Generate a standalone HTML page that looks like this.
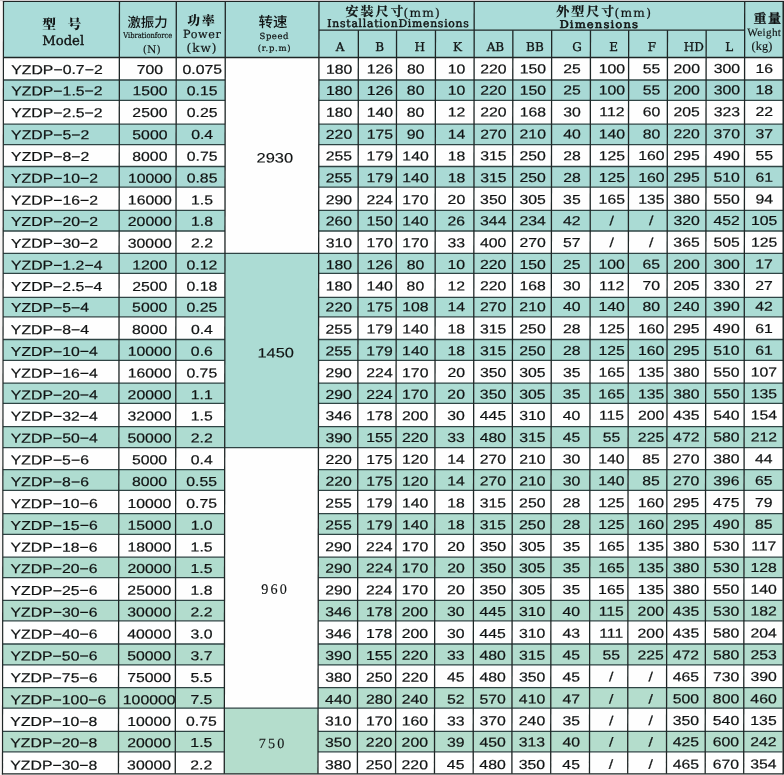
<!DOCTYPE html>
<html><head><meta charset="utf-8"><title>YZDP</title>
<style>html,body{margin:0;padding:0;background:#f8f6f5;}svg{display:block;}</style>
</head><body>
<svg width="784" height="775" viewBox="0 0 784 775">
<rect x="0" y="0" width="784" height="775" fill="#f8f6f5"/>
<rect x="0" y="0" width="784" height="1.1" fill="#d4cdd0"/>
<g transform="skewX(-0.075)">
<rect x="3.5" y="1.6" width="780.0" height="55.9" fill="#aadcd9"/>
<rect x="3.5" y="57.30" width="221.80" height="22.70" fill="#fefefe"/>
<rect x="319" y="57.30" width="464.50" height="22.70" fill="#fefefe"/>
<rect x="3.5" y="80.00" width="221.80" height="20.30" fill="#a8d9d5"/>
<rect x="319" y="80.00" width="464.50" height="20.30" fill="#a8d9d5"/>
<rect x="3.5" y="100.30" width="221.80" height="23.90" fill="#fefefe"/>
<rect x="319" y="100.30" width="464.50" height="23.90" fill="#fefefe"/>
<rect x="3.5" y="124.20" width="221.80" height="20.50" fill="#a9dad5"/>
<rect x="319" y="124.20" width="464.50" height="20.50" fill="#a9dad5"/>
<rect x="3.5" y="144.70" width="221.80" height="21.80" fill="#fefefe"/>
<rect x="319" y="144.70" width="464.50" height="21.80" fill="#fefefe"/>
<rect x="3.5" y="166.50" width="221.80" height="20.70" fill="#aadad5"/>
<rect x="319" y="166.50" width="464.50" height="20.70" fill="#aadad5"/>
<rect x="3.5" y="187.20" width="221.80" height="23.20" fill="#fefefe"/>
<rect x="319" y="187.20" width="464.50" height="23.20" fill="#fefefe"/>
<rect x="3.5" y="210.40" width="221.80" height="20.60" fill="#aadbd4"/>
<rect x="319" y="210.40" width="464.50" height="20.60" fill="#aadbd4"/>
<rect x="3.5" y="231.00" width="221.80" height="22.30" fill="#fefefe"/>
<rect x="319" y="231.00" width="464.50" height="22.30" fill="#fefefe"/>
<rect x="3.5" y="253.30" width="221.80" height="20.10" fill="#abdbd4"/>
<rect x="319" y="253.30" width="464.50" height="20.10" fill="#abdbd4"/>
<rect x="3.5" y="273.40" width="221.80" height="24.00" fill="#fefefe"/>
<rect x="319" y="273.40" width="464.50" height="24.00" fill="#fefefe"/>
<rect x="3.5" y="297.40" width="221.80" height="19.40" fill="#abdcd4"/>
<rect x="319" y="297.40" width="464.50" height="19.40" fill="#abdcd4"/>
<rect x="3.5" y="316.80" width="221.80" height="22.70" fill="#fefefe"/>
<rect x="319" y="316.80" width="464.50" height="22.70" fill="#fefefe"/>
<rect x="3.5" y="339.50" width="221.80" height="20.80" fill="#acdcd4"/>
<rect x="319" y="339.50" width="464.50" height="20.80" fill="#acdcd4"/>
<rect x="3.5" y="360.30" width="221.80" height="22.80" fill="#fefefe"/>
<rect x="319" y="360.30" width="464.50" height="22.80" fill="#fefefe"/>
<rect x="3.5" y="383.10" width="221.80" height="20.30" fill="#addcd3"/>
<rect x="319" y="383.10" width="464.50" height="20.30" fill="#addcd3"/>
<rect x="3.5" y="403.40" width="221.80" height="23.20" fill="#fefefe"/>
<rect x="319" y="403.40" width="464.50" height="23.20" fill="#fefefe"/>
<rect x="3.5" y="426.60" width="221.80" height="21.00" fill="#aedcd1"/>
<rect x="319" y="426.60" width="464.50" height="21.00" fill="#aedcd1"/>
<rect x="3.5" y="447.60" width="221.80" height="22.00" fill="#fefefe"/>
<rect x="319" y="447.60" width="464.50" height="22.00" fill="#fefefe"/>
<rect x="3.5" y="469.60" width="221.80" height="20.70" fill="#afdcd0"/>
<rect x="319" y="469.60" width="464.50" height="20.70" fill="#afdcd0"/>
<rect x="3.5" y="490.30" width="221.80" height="23.30" fill="#fefefe"/>
<rect x="319" y="490.30" width="464.50" height="23.30" fill="#fefefe"/>
<rect x="3.5" y="513.60" width="221.80" height="20.80" fill="#b0dccf"/>
<rect x="319" y="513.60" width="464.50" height="20.80" fill="#b0dccf"/>
<rect x="3.5" y="534.40" width="221.80" height="22.80" fill="#fefefe"/>
<rect x="319" y="534.40" width="464.50" height="22.80" fill="#fefefe"/>
<rect x="3.5" y="557.20" width="221.80" height="20.40" fill="#b0dcce"/>
<rect x="319" y="557.20" width="464.50" height="20.40" fill="#b0dcce"/>
<rect x="3.5" y="577.60" width="221.80" height="22.70" fill="#fefefe"/>
<rect x="319" y="577.60" width="464.50" height="22.70" fill="#fefefe"/>
<rect x="3.5" y="600.30" width="221.80" height="20.50" fill="#b2dccd"/>
<rect x="319" y="600.30" width="464.50" height="20.50" fill="#b2dccd"/>
<rect x="3.5" y="620.80" width="221.80" height="23.20" fill="#fefefe"/>
<rect x="319" y="620.80" width="464.50" height="23.20" fill="#fefefe"/>
<rect x="3.5" y="644.00" width="221.80" height="20.90" fill="#b2dccd"/>
<rect x="319" y="644.00" width="464.50" height="20.90" fill="#b2dccd"/>
<rect x="3.5" y="664.90" width="221.80" height="22.70" fill="#fefefe"/>
<rect x="319" y="664.90" width="464.50" height="22.70" fill="#fefefe"/>
<rect x="3.5" y="687.60" width="221.80" height="20.60" fill="#b4ddcd"/>
<rect x="319" y="687.60" width="464.50" height="20.60" fill="#b4ddcd"/>
<rect x="3.5" y="708.20" width="221.80" height="23.10" fill="#fefefe"/>
<rect x="319" y="708.20" width="464.50" height="23.10" fill="#fefefe"/>
<rect x="3.5" y="731.30" width="221.80" height="20.50" fill="#b4ddcc"/>
<rect x="319" y="731.30" width="464.50" height="20.50" fill="#b4ddcc"/>
<rect x="3.5" y="751.80" width="221.80" height="22.00" fill="#fefefe"/>
<rect x="319" y="751.80" width="464.50" height="22.00" fill="#fefefe"/>
<rect x="225.3" y="57.30" width="93.70" height="196.00" fill="#fefefe"/>
<rect x="225.3" y="253.30" width="93.70" height="194.30" fill="#acdcd4"/>
<rect x="225.3" y="447.60" width="93.70" height="260.60" fill="#fefefe"/>
<rect x="225.3" y="708.20" width="93.70" height="65.60" fill="#b4ddcc"/>
<line x1="3.5" y1="80.00" x2="225.3" y2="80.00" stroke="#2f4444" stroke-width="1.3"/>
<line x1="319" y1="80.00" x2="783.5" y2="80.00" stroke="#2f4444" stroke-width="1.3"/>
<line x1="3.5" y1="100.30" x2="225.3" y2="100.30" stroke="#2f4444" stroke-width="1.3"/>
<line x1="319" y1="100.30" x2="783.5" y2="100.30" stroke="#2f4444" stroke-width="1.3"/>
<line x1="3.5" y1="124.20" x2="225.3" y2="124.20" stroke="#2f4444" stroke-width="1.3"/>
<line x1="319" y1="124.20" x2="783.5" y2="124.20" stroke="#2f4444" stroke-width="1.3"/>
<line x1="3.5" y1="144.70" x2="225.3" y2="144.70" stroke="#2f4444" stroke-width="1.3"/>
<line x1="319" y1="144.70" x2="783.5" y2="144.70" stroke="#2f4444" stroke-width="1.3"/>
<line x1="3.5" y1="166.50" x2="225.3" y2="166.50" stroke="#2f4444" stroke-width="1.3"/>
<line x1="319" y1="166.50" x2="783.5" y2="166.50" stroke="#2f4444" stroke-width="1.3"/>
<line x1="3.5" y1="187.20" x2="225.3" y2="187.20" stroke="#2f4444" stroke-width="1.3"/>
<line x1="319" y1="187.20" x2="783.5" y2="187.20" stroke="#2f4444" stroke-width="1.3"/>
<line x1="3.5" y1="210.40" x2="225.3" y2="210.40" stroke="#2f4444" stroke-width="1.3"/>
<line x1="319" y1="210.40" x2="783.5" y2="210.40" stroke="#2f4444" stroke-width="1.3"/>
<line x1="3.5" y1="231.00" x2="225.3" y2="231.00" stroke="#2f4444" stroke-width="1.3"/>
<line x1="319" y1="231.00" x2="783.5" y2="231.00" stroke="#2f4444" stroke-width="1.3"/>
<line x1="3.5" y1="253.30" x2="225.3" y2="253.30" stroke="#2f4444" stroke-width="1.3"/>
<line x1="319" y1="253.30" x2="783.5" y2="253.30" stroke="#2f4444" stroke-width="1.3"/>
<line x1="3.5" y1="273.40" x2="225.3" y2="273.40" stroke="#2f4444" stroke-width="1.3"/>
<line x1="319" y1="273.40" x2="783.5" y2="273.40" stroke="#2f4444" stroke-width="1.3"/>
<line x1="3.5" y1="297.40" x2="225.3" y2="297.40" stroke="#2f4444" stroke-width="1.3"/>
<line x1="319" y1="297.40" x2="783.5" y2="297.40" stroke="#2f4444" stroke-width="1.3"/>
<line x1="3.5" y1="316.80" x2="225.3" y2="316.80" stroke="#2f4444" stroke-width="1.3"/>
<line x1="319" y1="316.80" x2="783.5" y2="316.80" stroke="#2f4444" stroke-width="1.3"/>
<line x1="3.5" y1="339.50" x2="225.3" y2="339.50" stroke="#2f4444" stroke-width="1.3"/>
<line x1="319" y1="339.50" x2="783.5" y2="339.50" stroke="#2f4444" stroke-width="1.3"/>
<line x1="3.5" y1="360.30" x2="225.3" y2="360.30" stroke="#2f4444" stroke-width="1.3"/>
<line x1="319" y1="360.30" x2="783.5" y2="360.30" stroke="#2f4444" stroke-width="1.3"/>
<line x1="3.5" y1="383.10" x2="225.3" y2="383.10" stroke="#2f4444" stroke-width="1.3"/>
<line x1="319" y1="383.10" x2="783.5" y2="383.10" stroke="#2f4444" stroke-width="1.3"/>
<line x1="3.5" y1="403.40" x2="225.3" y2="403.40" stroke="#2f4444" stroke-width="1.3"/>
<line x1="319" y1="403.40" x2="783.5" y2="403.40" stroke="#2f4444" stroke-width="1.3"/>
<line x1="3.5" y1="426.60" x2="225.3" y2="426.60" stroke="#2f4444" stroke-width="1.3"/>
<line x1="319" y1="426.60" x2="783.5" y2="426.60" stroke="#2f4444" stroke-width="1.3"/>
<line x1="3.5" y1="447.60" x2="225.3" y2="447.60" stroke="#2f4444" stroke-width="1.3"/>
<line x1="319" y1="447.60" x2="783.5" y2="447.60" stroke="#2f4444" stroke-width="1.3"/>
<line x1="3.5" y1="469.60" x2="225.3" y2="469.60" stroke="#2f4444" stroke-width="1.3"/>
<line x1="319" y1="469.60" x2="783.5" y2="469.60" stroke="#2f4444" stroke-width="1.3"/>
<line x1="3.5" y1="490.30" x2="225.3" y2="490.30" stroke="#2f4444" stroke-width="1.3"/>
<line x1="319" y1="490.30" x2="783.5" y2="490.30" stroke="#2f4444" stroke-width="1.3"/>
<line x1="3.5" y1="513.60" x2="225.3" y2="513.60" stroke="#2f4444" stroke-width="1.3"/>
<line x1="319" y1="513.60" x2="783.5" y2="513.60" stroke="#2f4444" stroke-width="1.3"/>
<line x1="3.5" y1="534.40" x2="225.3" y2="534.40" stroke="#2f4444" stroke-width="1.3"/>
<line x1="319" y1="534.40" x2="783.5" y2="534.40" stroke="#2f4444" stroke-width="1.3"/>
<line x1="3.5" y1="557.20" x2="225.3" y2="557.20" stroke="#2f4444" stroke-width="1.3"/>
<line x1="319" y1="557.20" x2="783.5" y2="557.20" stroke="#2f4444" stroke-width="1.3"/>
<line x1="3.5" y1="577.60" x2="225.3" y2="577.60" stroke="#2f4444" stroke-width="1.3"/>
<line x1="319" y1="577.60" x2="783.5" y2="577.60" stroke="#2f4444" stroke-width="1.3"/>
<line x1="3.5" y1="600.30" x2="225.3" y2="600.30" stroke="#2f4444" stroke-width="1.3"/>
<line x1="319" y1="600.30" x2="783.5" y2="600.30" stroke="#2f4444" stroke-width="1.3"/>
<line x1="3.5" y1="620.80" x2="225.3" y2="620.80" stroke="#2f4444" stroke-width="1.3"/>
<line x1="319" y1="620.80" x2="783.5" y2="620.80" stroke="#2f4444" stroke-width="1.3"/>
<line x1="3.5" y1="644.00" x2="225.3" y2="644.00" stroke="#2f4444" stroke-width="1.3"/>
<line x1="319" y1="644.00" x2="783.5" y2="644.00" stroke="#2f4444" stroke-width="1.3"/>
<line x1="3.5" y1="664.90" x2="225.3" y2="664.90" stroke="#2f4444" stroke-width="1.3"/>
<line x1="319" y1="664.90" x2="783.5" y2="664.90" stroke="#2f4444" stroke-width="1.3"/>
<line x1="3.5" y1="687.60" x2="225.3" y2="687.60" stroke="#2f4444" stroke-width="1.3"/>
<line x1="319" y1="687.60" x2="783.5" y2="687.60" stroke="#2f4444" stroke-width="1.3"/>
<line x1="3.5" y1="708.20" x2="225.3" y2="708.20" stroke="#2f4444" stroke-width="1.3"/>
<line x1="319" y1="708.20" x2="783.5" y2="708.20" stroke="#2f4444" stroke-width="1.3"/>
<line x1="3.5" y1="731.30" x2="225.3" y2="731.30" stroke="#2f4444" stroke-width="1.3"/>
<line x1="319" y1="731.30" x2="783.5" y2="731.30" stroke="#2f4444" stroke-width="1.3"/>
<line x1="3.5" y1="751.80" x2="225.3" y2="751.80" stroke="#2f4444" stroke-width="1.3"/>
<line x1="319" y1="751.80" x2="783.5" y2="751.80" stroke="#2f4444" stroke-width="1.3"/>
<line x1="225.3" y1="253.30" x2="319" y2="253.30" stroke="#2f4444" stroke-width="1.3"/>
<line x1="225.3" y1="447.60" x2="319" y2="447.60" stroke="#2f4444" stroke-width="1.3"/>
<line x1="225.3" y1="708.20" x2="319" y2="708.20" stroke="#2f4444" stroke-width="1.3"/>
<line x1="319" y1="30.20" x2="744.7" y2="30.20" stroke="#1f2626" stroke-width="1.2"/>
<line x1="3.5" y1="57.50" x2="783.5" y2="57.50" stroke="#1f2626" stroke-width="1.5"/>
<line x1="119.45" y1="1.60" x2="119.45" y2="773.80" stroke="#1f2626" stroke-width="1.3"/>
<line x1="176.3" y1="1.60" x2="176.3" y2="773.80" stroke="#1f2626" stroke-width="1.3"/>
<line x1="225.3" y1="1.60" x2="225.3" y2="773.80" stroke="#1f2626" stroke-width="1.3"/>
<line x1="319" y1="1.60" x2="319" y2="773.80" stroke="#1f2626" stroke-width="1.3"/>
<line x1="358.4" y1="30.20" x2="358.4" y2="773.80" stroke="#1f2626" stroke-width="1.3"/>
<line x1="396.6" y1="30.20" x2="396.6" y2="773.80" stroke="#1f2626" stroke-width="1.3"/>
<line x1="435.5" y1="30.20" x2="435.5" y2="773.80" stroke="#1f2626" stroke-width="1.3"/>
<line x1="474.2" y1="1.60" x2="474.2" y2="773.80" stroke="#1f2626" stroke-width="1.3"/>
<line x1="512.9" y1="30.20" x2="512.9" y2="773.80" stroke="#1f2626" stroke-width="1.3"/>
<line x1="551.7" y1="30.20" x2="551.7" y2="773.80" stroke="#1f2626" stroke-width="1.3"/>
<line x1="590.5" y1="30.20" x2="590.5" y2="773.80" stroke="#1f2626" stroke-width="1.3"/>
<line x1="628.7" y1="30.20" x2="628.7" y2="773.80" stroke="#1f2626" stroke-width="1.3"/>
<line x1="667.5" y1="30.20" x2="667.5" y2="773.80" stroke="#1f2626" stroke-width="1.3"/>
<line x1="706.2" y1="30.20" x2="706.2" y2="773.80" stroke="#1f2626" stroke-width="1.3"/>
<line x1="744.7" y1="1.60" x2="744.7" y2="773.80" stroke="#1f2626" stroke-width="1.3"/>
<line x1="2.9" y1="1.60" x2="784.3" y2="1.60" stroke="#1f2626" stroke-width="1.0"/>
<line x1="2.9" y1="773.80" x2="784.3" y2="773.80" stroke="#1f2626" stroke-width="1.3"/>
<line x1="3.5" y1="1.10" x2="3.5" y2="774.40" stroke="#1f2626" stroke-width="1.2"/>
<style>
text{fill:#101313;text-anchor:middle}
.s{text-anchor:start}
.d{font-family:'Liberation Sans',sans-serif;font-size:13.0px;stroke:#101313;stroke-width:0.2px}
.m{letter-spacing:0.02px}
.h{font-family:'DejaVu Serif',serif}
</style>
<g transform="skewY(-0.09)">
<text class="d m s" transform="translate(11.30,74.20) scale(1.215,1)">YZDP−0.7−2</text>
<text class="d" transform="translate(150.07,74.20) scale(1.215,1)">700</text>
<text class="d" transform="translate(202.30,74.20) scale(1.215,1)">0.075</text>
<text class="d" transform="translate(339.20,74.20) scale(1.215,1)">180</text>
<text class="d" transform="translate(380.00,74.20) scale(1.215,1)">126</text>
<text class="d" transform="translate(415.75,74.20) scale(1.215,1)">80</text>
<text class="d" transform="translate(456.65,74.20) scale(1.215,1)">10</text>
<text class="d" transform="translate(493.55,74.20) scale(1.215,1)">220</text>
<text class="d" transform="translate(532.95,74.20) scale(1.215,1)">150</text>
<text class="d" transform="translate(572.15,74.20) scale(1.215,1)">25</text>
<text class="d" transform="translate(612.05,74.20) scale(1.215,1)">100</text>
<text class="d" transform="translate(651.60,74.20) scale(1.215,1)">55</text>
<text class="d" transform="translate(686.85,74.20) scale(1.215,1)">200</text>
<text class="d" transform="translate(726.95,74.20) scale(1.215,1)">300</text>
<text class="d" transform="translate(764.45,74.20) scale(1.215,1)">16</text>
<text class="d m s" transform="translate(11.30,95.50) scale(1.215,1)">YZDP−1.5−2</text>
<text class="d" transform="translate(150.07,95.50) scale(1.215,1)">1500</text>
<text class="d" transform="translate(202.30,95.50) scale(1.215,1)">0.15</text>
<text class="d" transform="translate(339.20,95.50) scale(1.215,1)">180</text>
<text class="d" transform="translate(380.00,95.50) scale(1.215,1)">126</text>
<text class="d" transform="translate(415.75,95.50) scale(1.215,1)">80</text>
<text class="d" transform="translate(456.65,95.50) scale(1.215,1)">10</text>
<text class="d" transform="translate(493.55,95.50) scale(1.215,1)">220</text>
<text class="d" transform="translate(532.95,95.50) scale(1.215,1)">150</text>
<text class="d" transform="translate(572.15,95.50) scale(1.215,1)">25</text>
<text class="d" transform="translate(612.05,95.50) scale(1.215,1)">100</text>
<text class="d" transform="translate(651.60,95.50) scale(1.215,1)">55</text>
<text class="d" transform="translate(686.85,95.50) scale(1.215,1)">200</text>
<text class="d" transform="translate(726.95,95.50) scale(1.215,1)">300</text>
<text class="d" transform="translate(764.45,95.50) scale(1.215,1)">18</text>
<text class="d m s" transform="translate(11.30,117.30) scale(1.215,1)">YZDP−2.5−2</text>
<text class="d" transform="translate(150.07,117.30) scale(1.215,1)">2500</text>
<text class="d" transform="translate(202.30,117.30) scale(1.215,1)">0.25</text>
<text class="d" transform="translate(339.20,117.30) scale(1.215,1)">180</text>
<text class="d" transform="translate(380.00,117.30) scale(1.215,1)">140</text>
<text class="d" transform="translate(415.75,117.30) scale(1.215,1)">80</text>
<text class="d" transform="translate(456.65,117.30) scale(1.215,1)">12</text>
<text class="d" transform="translate(493.55,117.30) scale(1.215,1)">220</text>
<text class="d" transform="translate(532.95,117.30) scale(1.215,1)">168</text>
<text class="d" transform="translate(572.15,117.30) scale(1.215,1)">30</text>
<text class="d" transform="translate(612.05,117.30) scale(1.215,1)">112</text>
<text class="d" transform="translate(651.60,117.30) scale(1.215,1)">60</text>
<text class="d" transform="translate(686.85,117.30) scale(1.215,1)">205</text>
<text class="d" transform="translate(726.95,117.30) scale(1.215,1)">323</text>
<text class="d" transform="translate(764.45,117.30) scale(1.215,1)">22</text>
<text class="d m s" transform="translate(11.30,139.40) scale(1.215,1)">YZDP−5−2</text>
<text class="d" transform="translate(150.07,139.40) scale(1.215,1)">5000</text>
<text class="d" transform="translate(202.30,139.40) scale(1.215,1)">0.4</text>
<text class="d" transform="translate(339.20,139.40) scale(1.215,1)">220</text>
<text class="d" transform="translate(380.00,139.40) scale(1.215,1)">175</text>
<text class="d" transform="translate(415.75,139.40) scale(1.215,1)">90</text>
<text class="d" transform="translate(456.65,139.40) scale(1.215,1)">14</text>
<text class="d" transform="translate(493.55,139.40) scale(1.215,1)">270</text>
<text class="d" transform="translate(532.95,139.40) scale(1.215,1)">210</text>
<text class="d" transform="translate(572.15,139.40) scale(1.215,1)">40</text>
<text class="d" transform="translate(612.05,139.40) scale(1.215,1)">140</text>
<text class="d" transform="translate(651.60,139.40) scale(1.215,1)">80</text>
<text class="d" transform="translate(686.85,139.40) scale(1.215,1)">220</text>
<text class="d" transform="translate(726.95,139.40) scale(1.215,1)">370</text>
<text class="d" transform="translate(764.45,139.40) scale(1.215,1)">37</text>
<text class="d m s" transform="translate(11.30,161.10) scale(1.215,1)">YZDP−8−2</text>
<text class="d" transform="translate(150.07,161.10) scale(1.215,1)">8000</text>
<text class="d" transform="translate(202.30,161.10) scale(1.215,1)">0.75</text>
<text class="d" transform="translate(339.20,161.10) scale(1.215,1)">255</text>
<text class="d" transform="translate(380.00,161.10) scale(1.215,1)">179</text>
<text class="d" transform="translate(415.75,161.10) scale(1.215,1)">140</text>
<text class="d" transform="translate(456.65,161.10) scale(1.215,1)">18</text>
<text class="d" transform="translate(493.55,161.10) scale(1.215,1)">315</text>
<text class="d" transform="translate(532.95,161.10) scale(1.215,1)">250</text>
<text class="d" transform="translate(572.15,161.10) scale(1.215,1)">28</text>
<text class="d" transform="translate(612.05,161.10) scale(1.215,1)">125</text>
<text class="d" transform="translate(651.60,161.10) scale(1.215,1)">160</text>
<text class="d" transform="translate(686.85,161.10) scale(1.215,1)">295</text>
<text class="d" transform="translate(726.95,161.10) scale(1.215,1)">490</text>
<text class="d" transform="translate(764.45,161.10) scale(1.215,1)">55</text>
<text class="d m s" transform="translate(11.30,182.90) scale(1.215,1)">YZDP−10−2</text>
<text class="d" transform="translate(150.07,182.90) scale(1.215,1)">10000</text>
<text class="d" transform="translate(202.30,182.90) scale(1.215,1)">0.85</text>
<text class="d" transform="translate(339.20,182.90) scale(1.215,1)">255</text>
<text class="d" transform="translate(380.00,182.90) scale(1.215,1)">179</text>
<text class="d" transform="translate(415.75,182.90) scale(1.215,1)">140</text>
<text class="d" transform="translate(456.65,182.90) scale(1.215,1)">18</text>
<text class="d" transform="translate(493.55,182.90) scale(1.215,1)">315</text>
<text class="d" transform="translate(532.95,182.90) scale(1.215,1)">250</text>
<text class="d" transform="translate(572.15,182.90) scale(1.215,1)">28</text>
<text class="d" transform="translate(612.05,182.90) scale(1.215,1)">125</text>
<text class="d" transform="translate(651.60,182.90) scale(1.215,1)">160</text>
<text class="d" transform="translate(686.85,182.90) scale(1.215,1)">295</text>
<text class="d" transform="translate(726.95,182.90) scale(1.215,1)">510</text>
<text class="d" transform="translate(764.45,182.90) scale(1.215,1)">61</text>
<text class="d m s" transform="translate(11.30,204.80) scale(1.215,1)">YZDP−16−2</text>
<text class="d" transform="translate(150.07,204.80) scale(1.215,1)">16000</text>
<text class="d" transform="translate(202.30,204.80) scale(1.215,1)">1.5</text>
<text class="d" transform="translate(339.20,204.80) scale(1.215,1)">290</text>
<text class="d" transform="translate(380.00,204.80) scale(1.215,1)">224</text>
<text class="d" transform="translate(415.75,204.80) scale(1.215,1)">170</text>
<text class="d" transform="translate(456.65,204.80) scale(1.215,1)">20</text>
<text class="d" transform="translate(493.55,204.80) scale(1.215,1)">350</text>
<text class="d" transform="translate(532.95,204.80) scale(1.215,1)">305</text>
<text class="d" transform="translate(572.15,204.80) scale(1.215,1)">35</text>
<text class="d" transform="translate(612.05,204.80) scale(1.215,1)">165</text>
<text class="d" transform="translate(651.60,204.80) scale(1.215,1)">135</text>
<text class="d" transform="translate(686.85,204.80) scale(1.215,1)">380</text>
<text class="d" transform="translate(726.95,204.80) scale(1.215,1)">550</text>
<text class="d" transform="translate(764.45,204.80) scale(1.215,1)">94</text>
<text class="d m s" transform="translate(11.30,226.10) scale(1.215,1)">YZDP−20−2</text>
<text class="d" transform="translate(150.07,226.10) scale(1.215,1)">20000</text>
<text class="d" transform="translate(202.30,226.10) scale(1.215,1)">1.8</text>
<text class="d" transform="translate(339.20,226.10) scale(1.215,1)">260</text>
<text class="d" transform="translate(380.00,226.10) scale(1.215,1)">150</text>
<text class="d" transform="translate(415.75,226.10) scale(1.215,1)">140</text>
<text class="d" transform="translate(456.65,226.10) scale(1.215,1)">26</text>
<text class="d" transform="translate(493.55,226.10) scale(1.215,1)">344</text>
<text class="d" transform="translate(532.95,226.10) scale(1.215,1)">234</text>
<text class="d" transform="translate(572.15,226.10) scale(1.215,1)">42</text>
<text class="d" transform="translate(612.05,226.10) scale(1.215,1)">/</text>
<text class="d" transform="translate(651.60,226.10) scale(1.215,1)">/</text>
<text class="d" transform="translate(686.85,226.10) scale(1.215,1)">320</text>
<text class="d" transform="translate(726.95,226.10) scale(1.215,1)">452</text>
<text class="d" transform="translate(764.45,226.10) scale(1.215,1)">105</text>
<text class="d m s" transform="translate(11.30,247.90) scale(1.215,1)">YZDP−30−2</text>
<text class="d" transform="translate(150.07,247.90) scale(1.215,1)">30000</text>
<text class="d" transform="translate(202.30,247.90) scale(1.215,1)">2.2</text>
<text class="d" transform="translate(339.20,247.90) scale(1.215,1)">310</text>
<text class="d" transform="translate(380.00,247.90) scale(1.215,1)">170</text>
<text class="d" transform="translate(415.75,247.90) scale(1.215,1)">170</text>
<text class="d" transform="translate(456.65,247.90) scale(1.215,1)">33</text>
<text class="d" transform="translate(493.55,247.90) scale(1.215,1)">400</text>
<text class="d" transform="translate(532.95,247.90) scale(1.215,1)">270</text>
<text class="d" transform="translate(572.15,247.90) scale(1.215,1)">57</text>
<text class="d" transform="translate(612.05,247.90) scale(1.215,1)">/</text>
<text class="d" transform="translate(651.60,247.90) scale(1.215,1)">/</text>
<text class="d" transform="translate(686.85,247.90) scale(1.215,1)">365</text>
<text class="d" transform="translate(726.95,247.90) scale(1.215,1)">505</text>
<text class="d" transform="translate(764.45,247.90) scale(1.215,1)">125</text>
<text class="d m s" transform="translate(11.30,269.80) scale(1.215,1)">YZDP−1.2−4</text>
<text class="d" transform="translate(150.07,269.80) scale(1.215,1)">1200</text>
<text class="d" transform="translate(202.30,269.80) scale(1.215,1)">0.12</text>
<text class="d" transform="translate(339.20,269.80) scale(1.215,1)">180</text>
<text class="d" transform="translate(380.00,269.80) scale(1.215,1)">126</text>
<text class="d" transform="translate(415.75,269.80) scale(1.215,1)">80</text>
<text class="d" transform="translate(456.65,269.80) scale(1.215,1)">10</text>
<text class="d" transform="translate(493.55,269.80) scale(1.215,1)">220</text>
<text class="d" transform="translate(532.95,269.80) scale(1.215,1)">150</text>
<text class="d" transform="translate(572.15,269.80) scale(1.215,1)">25</text>
<text class="d" transform="translate(612.05,269.80) scale(1.215,1)">100</text>
<text class="d" transform="translate(651.60,269.80) scale(1.215,1)">65</text>
<text class="d" transform="translate(686.85,269.80) scale(1.215,1)">200</text>
<text class="d" transform="translate(726.95,269.80) scale(1.215,1)">300</text>
<text class="d" transform="translate(764.45,269.80) scale(1.215,1)">17</text>
<text class="d m s" transform="translate(11.30,291.10) scale(1.215,1)">YZDP−2.5−4</text>
<text class="d" transform="translate(150.07,291.10) scale(1.215,1)">2500</text>
<text class="d" transform="translate(202.30,291.10) scale(1.215,1)">0.18</text>
<text class="d" transform="translate(339.20,291.10) scale(1.215,1)">180</text>
<text class="d" transform="translate(380.00,291.10) scale(1.215,1)">140</text>
<text class="d" transform="translate(415.75,291.10) scale(1.215,1)">80</text>
<text class="d" transform="translate(456.65,291.10) scale(1.215,1)">12</text>
<text class="d" transform="translate(493.55,291.10) scale(1.215,1)">220</text>
<text class="d" transform="translate(532.95,291.10) scale(1.215,1)">168</text>
<text class="d" transform="translate(572.15,291.10) scale(1.215,1)">30</text>
<text class="d" transform="translate(612.05,291.10) scale(1.215,1)">112</text>
<text class="d" transform="translate(651.60,291.10) scale(1.215,1)">70</text>
<text class="d" transform="translate(686.85,291.10) scale(1.215,1)">205</text>
<text class="d" transform="translate(726.95,291.10) scale(1.215,1)">330</text>
<text class="d" transform="translate(764.45,291.10) scale(1.215,1)">27</text>
<text class="d m s" transform="translate(11.30,312.00) scale(1.215,1)">YZDP−5−4</text>
<text class="d" transform="translate(150.07,312.00) scale(1.215,1)">5000</text>
<text class="d" transform="translate(202.30,312.00) scale(1.215,1)">0.25</text>
<text class="d" transform="translate(339.20,312.00) scale(1.215,1)">220</text>
<text class="d" transform="translate(380.00,312.00) scale(1.215,1)">175</text>
<text class="d" transform="translate(415.75,312.00) scale(1.215,1)">108</text>
<text class="d" transform="translate(456.65,312.00) scale(1.215,1)">14</text>
<text class="d" transform="translate(493.55,312.00) scale(1.215,1)">270</text>
<text class="d" transform="translate(532.95,312.00) scale(1.215,1)">210</text>
<text class="d" transform="translate(572.15,312.00) scale(1.215,1)">40</text>
<text class="d" transform="translate(612.05,312.00) scale(1.215,1)">140</text>
<text class="d" transform="translate(651.60,312.00) scale(1.215,1)">80</text>
<text class="d" transform="translate(686.85,312.00) scale(1.215,1)">240</text>
<text class="d" transform="translate(726.95,312.00) scale(1.215,1)">390</text>
<text class="d" transform="translate(764.45,312.00) scale(1.215,1)">42</text>
<text class="d m s" transform="translate(11.30,334.20) scale(1.215,1)">YZDP−8−4</text>
<text class="d" transform="translate(150.07,334.20) scale(1.215,1)">8000</text>
<text class="d" transform="translate(202.30,334.20) scale(1.215,1)">0.4</text>
<text class="d" transform="translate(339.20,334.20) scale(1.215,1)">255</text>
<text class="d" transform="translate(380.00,334.20) scale(1.215,1)">179</text>
<text class="d" transform="translate(415.75,334.20) scale(1.215,1)">140</text>
<text class="d" transform="translate(456.65,334.20) scale(1.215,1)">18</text>
<text class="d" transform="translate(493.55,334.20) scale(1.215,1)">315</text>
<text class="d" transform="translate(532.95,334.20) scale(1.215,1)">250</text>
<text class="d" transform="translate(572.15,334.20) scale(1.215,1)">28</text>
<text class="d" transform="translate(612.05,334.20) scale(1.215,1)">125</text>
<text class="d" transform="translate(651.60,334.20) scale(1.215,1)">160</text>
<text class="d" transform="translate(686.85,334.20) scale(1.215,1)">295</text>
<text class="d" transform="translate(726.95,334.20) scale(1.215,1)">490</text>
<text class="d" transform="translate(764.45,334.20) scale(1.215,1)">61</text>
<text class="d m s" transform="translate(11.30,356.00) scale(1.215,1)">YZDP−10−4</text>
<text class="d" transform="translate(150.07,356.00) scale(1.215,1)">10000</text>
<text class="d" transform="translate(202.30,356.00) scale(1.215,1)">0.6</text>
<text class="d" transform="translate(339.20,356.00) scale(1.215,1)">255</text>
<text class="d" transform="translate(380.00,356.00) scale(1.215,1)">179</text>
<text class="d" transform="translate(415.75,356.00) scale(1.215,1)">140</text>
<text class="d" transform="translate(456.65,356.00) scale(1.215,1)">18</text>
<text class="d" transform="translate(493.55,356.00) scale(1.215,1)">315</text>
<text class="d" transform="translate(532.95,356.00) scale(1.215,1)">250</text>
<text class="d" transform="translate(572.15,356.00) scale(1.215,1)">28</text>
<text class="d" transform="translate(612.05,356.00) scale(1.215,1)">125</text>
<text class="d" transform="translate(651.60,356.00) scale(1.215,1)">160</text>
<text class="d" transform="translate(686.85,356.00) scale(1.215,1)">295</text>
<text class="d" transform="translate(726.95,356.00) scale(1.215,1)">510</text>
<text class="d" transform="translate(764.45,356.00) scale(1.215,1)">61</text>
<text class="d m s" transform="translate(11.30,377.80) scale(1.215,1)">YZDP−16−4</text>
<text class="d" transform="translate(150.07,377.80) scale(1.215,1)">16000</text>
<text class="d" transform="translate(202.30,377.80) scale(1.215,1)">0.75</text>
<text class="d" transform="translate(339.20,377.80) scale(1.215,1)">290</text>
<text class="d" transform="translate(380.00,377.80) scale(1.215,1)">224</text>
<text class="d" transform="translate(415.75,377.80) scale(1.215,1)">170</text>
<text class="d" transform="translate(456.65,377.80) scale(1.215,1)">20</text>
<text class="d" transform="translate(493.55,377.80) scale(1.215,1)">350</text>
<text class="d" transform="translate(532.95,377.80) scale(1.215,1)">305</text>
<text class="d" transform="translate(572.15,377.80) scale(1.215,1)">35</text>
<text class="d" transform="translate(612.05,377.80) scale(1.215,1)">165</text>
<text class="d" transform="translate(651.60,377.80) scale(1.215,1)">135</text>
<text class="d" transform="translate(686.85,377.80) scale(1.215,1)">380</text>
<text class="d" transform="translate(726.95,377.80) scale(1.215,1)">550</text>
<text class="d" transform="translate(764.45,377.80) scale(1.215,1)">107</text>
<text class="d m s" transform="translate(11.30,399.50) scale(1.215,1)">YZDP−20−4</text>
<text class="d" transform="translate(150.07,399.50) scale(1.215,1)">20000</text>
<text class="d" transform="translate(202.30,399.50) scale(1.215,1)">1.1</text>
<text class="d" transform="translate(339.20,399.50) scale(1.215,1)">290</text>
<text class="d" transform="translate(380.00,399.50) scale(1.215,1)">224</text>
<text class="d" transform="translate(415.75,399.50) scale(1.215,1)">170</text>
<text class="d" transform="translate(456.65,399.50) scale(1.215,1)">20</text>
<text class="d" transform="translate(493.55,399.50) scale(1.215,1)">350</text>
<text class="d" transform="translate(532.95,399.50) scale(1.215,1)">305</text>
<text class="d" transform="translate(572.15,399.50) scale(1.215,1)">35</text>
<text class="d" transform="translate(612.05,399.50) scale(1.215,1)">165</text>
<text class="d" transform="translate(651.60,399.50) scale(1.215,1)">135</text>
<text class="d" transform="translate(686.85,399.50) scale(1.215,1)">380</text>
<text class="d" transform="translate(726.95,399.50) scale(1.215,1)">550</text>
<text class="d" transform="translate(764.45,399.50) scale(1.215,1)">135</text>
<text class="d m s" transform="translate(11.30,420.80) scale(1.215,1)">YZDP−32−4</text>
<text class="d" transform="translate(150.07,420.80) scale(1.215,1)">32000</text>
<text class="d" transform="translate(202.30,420.80) scale(1.215,1)">1.5</text>
<text class="d" transform="translate(339.20,420.80) scale(1.215,1)">346</text>
<text class="d" transform="translate(380.00,420.80) scale(1.215,1)">178</text>
<text class="d" transform="translate(415.75,420.80) scale(1.215,1)">200</text>
<text class="d" transform="translate(456.65,420.80) scale(1.215,1)">30</text>
<text class="d" transform="translate(493.55,420.80) scale(1.215,1)">445</text>
<text class="d" transform="translate(532.95,420.80) scale(1.215,1)">310</text>
<text class="d" transform="translate(572.15,420.80) scale(1.215,1)">40</text>
<text class="d" transform="translate(612.05,420.80) scale(1.215,1)">115</text>
<text class="d" transform="translate(651.60,420.80) scale(1.215,1)">200</text>
<text class="d" transform="translate(686.85,420.80) scale(1.215,1)">435</text>
<text class="d" transform="translate(726.95,420.80) scale(1.215,1)">540</text>
<text class="d" transform="translate(764.45,420.80) scale(1.215,1)">154</text>
<text class="d m s" transform="translate(11.30,442.70) scale(1.215,1)">YZDP−50−4</text>
<text class="d" transform="translate(150.07,442.70) scale(1.215,1)">50000</text>
<text class="d" transform="translate(202.30,442.70) scale(1.215,1)">2.2</text>
<text class="d" transform="translate(339.20,442.70) scale(1.215,1)">390</text>
<text class="d" transform="translate(380.00,442.70) scale(1.215,1)">155</text>
<text class="d" transform="translate(415.75,442.70) scale(1.215,1)">220</text>
<text class="d" transform="translate(456.65,442.70) scale(1.215,1)">33</text>
<text class="d" transform="translate(493.55,442.70) scale(1.215,1)">480</text>
<text class="d" transform="translate(532.95,442.70) scale(1.215,1)">315</text>
<text class="d" transform="translate(572.15,442.70) scale(1.215,1)">45</text>
<text class="d" transform="translate(612.05,442.70) scale(1.215,1)">55</text>
<text class="d" transform="translate(651.60,442.70) scale(1.215,1)">225</text>
<text class="d" transform="translate(686.85,442.70) scale(1.215,1)">472</text>
<text class="d" transform="translate(726.95,442.70) scale(1.215,1)">580</text>
<text class="d" transform="translate(764.45,442.70) scale(1.215,1)">212</text>
<text class="d m s" transform="translate(11.30,464.50) scale(1.215,1)">YZDP−5−6</text>
<text class="d" transform="translate(150.07,464.50) scale(1.215,1)">5000</text>
<text class="d" transform="translate(202.30,464.50) scale(1.215,1)">0.4</text>
<text class="d" transform="translate(339.20,464.50) scale(1.215,1)">220</text>
<text class="d" transform="translate(380.00,464.50) scale(1.215,1)">175</text>
<text class="d" transform="translate(415.75,464.50) scale(1.215,1)">120</text>
<text class="d" transform="translate(456.65,464.50) scale(1.215,1)">14</text>
<text class="d" transform="translate(493.55,464.50) scale(1.215,1)">270</text>
<text class="d" transform="translate(532.95,464.50) scale(1.215,1)">210</text>
<text class="d" transform="translate(572.15,464.50) scale(1.215,1)">30</text>
<text class="d" transform="translate(612.05,464.50) scale(1.215,1)">140</text>
<text class="d" transform="translate(651.60,464.50) scale(1.215,1)">85</text>
<text class="d" transform="translate(686.85,464.50) scale(1.215,1)">270</text>
<text class="d" transform="translate(726.95,464.50) scale(1.215,1)">380</text>
<text class="d" transform="translate(764.45,464.50) scale(1.215,1)">44</text>
<text class="d m s" transform="translate(11.30,486.30) scale(1.215,1)">YZDP−8−6</text>
<text class="d" transform="translate(150.07,486.30) scale(1.215,1)">8000</text>
<text class="d" transform="translate(202.30,486.30) scale(1.215,1)">0.55</text>
<text class="d" transform="translate(339.20,486.30) scale(1.215,1)">220</text>
<text class="d" transform="translate(380.00,486.30) scale(1.215,1)">175</text>
<text class="d" transform="translate(415.75,486.30) scale(1.215,1)">120</text>
<text class="d" transform="translate(456.65,486.30) scale(1.215,1)">14</text>
<text class="d" transform="translate(493.55,486.30) scale(1.215,1)">270</text>
<text class="d" transform="translate(532.95,486.30) scale(1.215,1)">210</text>
<text class="d" transform="translate(572.15,486.30) scale(1.215,1)">30</text>
<text class="d" transform="translate(612.05,486.30) scale(1.215,1)">140</text>
<text class="d" transform="translate(651.60,486.30) scale(1.215,1)">85</text>
<text class="d" transform="translate(686.85,486.30) scale(1.215,1)">270</text>
<text class="d" transform="translate(726.95,486.30) scale(1.215,1)">396</text>
<text class="d" transform="translate(764.45,486.30) scale(1.215,1)">65</text>
<text class="d m s" transform="translate(11.30,508.20) scale(1.215,1)">YZDP−10−6</text>
<text class="d" transform="translate(150.07,508.20) scale(1.215,1)">10000</text>
<text class="d" transform="translate(202.30,508.20) scale(1.215,1)">0.75</text>
<text class="d" transform="translate(339.20,508.20) scale(1.215,1)">255</text>
<text class="d" transform="translate(380.00,508.20) scale(1.215,1)">179</text>
<text class="d" transform="translate(415.75,508.20) scale(1.215,1)">140</text>
<text class="d" transform="translate(456.65,508.20) scale(1.215,1)">18</text>
<text class="d" transform="translate(493.55,508.20) scale(1.215,1)">315</text>
<text class="d" transform="translate(532.95,508.20) scale(1.215,1)">250</text>
<text class="d" transform="translate(572.15,508.20) scale(1.215,1)">28</text>
<text class="d" transform="translate(612.05,508.20) scale(1.215,1)">125</text>
<text class="d" transform="translate(651.60,508.20) scale(1.215,1)">160</text>
<text class="d" transform="translate(686.85,508.20) scale(1.215,1)">295</text>
<text class="d" transform="translate(726.95,508.20) scale(1.215,1)">475</text>
<text class="d" transform="translate(764.45,508.20) scale(1.215,1)">79</text>
<text class="d m s" transform="translate(11.30,530.00) scale(1.215,1)">YZDP−15−6</text>
<text class="d" transform="translate(150.07,530.00) scale(1.215,1)">15000</text>
<text class="d" transform="translate(202.30,530.00) scale(1.215,1)">1.0</text>
<text class="d" transform="translate(339.20,530.00) scale(1.215,1)">255</text>
<text class="d" transform="translate(380.00,530.00) scale(1.215,1)">179</text>
<text class="d" transform="translate(415.75,530.00) scale(1.215,1)">140</text>
<text class="d" transform="translate(456.65,530.00) scale(1.215,1)">18</text>
<text class="d" transform="translate(493.55,530.00) scale(1.215,1)">315</text>
<text class="d" transform="translate(532.95,530.00) scale(1.215,1)">250</text>
<text class="d" transform="translate(572.15,530.00) scale(1.215,1)">28</text>
<text class="d" transform="translate(612.05,530.00) scale(1.215,1)">125</text>
<text class="d" transform="translate(651.60,530.00) scale(1.215,1)">160</text>
<text class="d" transform="translate(686.85,530.00) scale(1.215,1)">295</text>
<text class="d" transform="translate(726.95,530.00) scale(1.215,1)">490</text>
<text class="d" transform="translate(764.45,530.00) scale(1.215,1)">85</text>
<text class="d m s" transform="translate(11.30,551.80) scale(1.215,1)">YZDP−18−6</text>
<text class="d" transform="translate(150.07,551.80) scale(1.215,1)">18000</text>
<text class="d" transform="translate(202.30,551.80) scale(1.215,1)">1.5</text>
<text class="d" transform="translate(339.20,551.80) scale(1.215,1)">290</text>
<text class="d" transform="translate(380.00,551.80) scale(1.215,1)">224</text>
<text class="d" transform="translate(415.75,551.80) scale(1.215,1)">170</text>
<text class="d" transform="translate(456.65,551.80) scale(1.215,1)">20</text>
<text class="d" transform="translate(493.55,551.80) scale(1.215,1)">350</text>
<text class="d" transform="translate(532.95,551.80) scale(1.215,1)">305</text>
<text class="d" transform="translate(572.15,551.80) scale(1.215,1)">35</text>
<text class="d" transform="translate(612.05,551.80) scale(1.215,1)">165</text>
<text class="d" transform="translate(651.60,551.80) scale(1.215,1)">135</text>
<text class="d" transform="translate(686.85,551.80) scale(1.215,1)">380</text>
<text class="d" transform="translate(726.95,551.80) scale(1.215,1)">530</text>
<text class="d" transform="translate(764.45,551.80) scale(1.215,1)">117</text>
<text class="d m s" transform="translate(11.30,573.20) scale(1.215,1)">YZDP−20−6</text>
<text class="d" transform="translate(150.07,573.20) scale(1.215,1)">20000</text>
<text class="d" transform="translate(202.30,573.20) scale(1.215,1)">1.5</text>
<text class="d" transform="translate(339.20,573.20) scale(1.215,1)">290</text>
<text class="d" transform="translate(380.00,573.20) scale(1.215,1)">224</text>
<text class="d" transform="translate(415.75,573.20) scale(1.215,1)">170</text>
<text class="d" transform="translate(456.65,573.20) scale(1.215,1)">20</text>
<text class="d" transform="translate(493.55,573.20) scale(1.215,1)">350</text>
<text class="d" transform="translate(532.95,573.20) scale(1.215,1)">305</text>
<text class="d" transform="translate(572.15,573.20) scale(1.215,1)">35</text>
<text class="d" transform="translate(612.05,573.20) scale(1.215,1)">165</text>
<text class="d" transform="translate(651.60,573.20) scale(1.215,1)">135</text>
<text class="d" transform="translate(686.85,573.20) scale(1.215,1)">380</text>
<text class="d" transform="translate(726.95,573.20) scale(1.215,1)">530</text>
<text class="d" transform="translate(764.45,573.20) scale(1.215,1)">128</text>
<text class="d m s" transform="translate(11.30,595.00) scale(1.215,1)">YZDP−25−6</text>
<text class="d" transform="translate(150.07,595.00) scale(1.215,1)">25000</text>
<text class="d" transform="translate(202.30,595.00) scale(1.215,1)">1.8</text>
<text class="d" transform="translate(339.20,595.00) scale(1.215,1)">290</text>
<text class="d" transform="translate(380.00,595.00) scale(1.215,1)">224</text>
<text class="d" transform="translate(415.75,595.00) scale(1.215,1)">170</text>
<text class="d" transform="translate(456.65,595.00) scale(1.215,1)">20</text>
<text class="d" transform="translate(493.55,595.00) scale(1.215,1)">350</text>
<text class="d" transform="translate(532.95,595.00) scale(1.215,1)">305</text>
<text class="d" transform="translate(572.15,595.00) scale(1.215,1)">35</text>
<text class="d" transform="translate(612.05,595.00) scale(1.215,1)">165</text>
<text class="d" transform="translate(651.60,595.00) scale(1.215,1)">135</text>
<text class="d" transform="translate(686.85,595.00) scale(1.215,1)">380</text>
<text class="d" transform="translate(726.95,595.00) scale(1.215,1)">550</text>
<text class="d" transform="translate(764.45,595.00) scale(1.215,1)">140</text>
<text class="d m s" transform="translate(11.30,616.80) scale(1.215,1)">YZDP−30−6</text>
<text class="d" transform="translate(150.07,616.80) scale(1.215,1)">30000</text>
<text class="d" transform="translate(202.30,616.80) scale(1.215,1)">2.2</text>
<text class="d" transform="translate(339.20,616.80) scale(1.215,1)">346</text>
<text class="d" transform="translate(380.00,616.80) scale(1.215,1)">178</text>
<text class="d" transform="translate(415.75,616.80) scale(1.215,1)">200</text>
<text class="d" transform="translate(456.65,616.80) scale(1.215,1)">30</text>
<text class="d" transform="translate(493.55,616.80) scale(1.215,1)">445</text>
<text class="d" transform="translate(532.95,616.80) scale(1.215,1)">310</text>
<text class="d" transform="translate(572.15,616.80) scale(1.215,1)">40</text>
<text class="d" transform="translate(612.05,616.80) scale(1.215,1)">115</text>
<text class="d" transform="translate(651.60,616.80) scale(1.215,1)">200</text>
<text class="d" transform="translate(686.85,616.80) scale(1.215,1)">435</text>
<text class="d" transform="translate(726.95,616.80) scale(1.215,1)">530</text>
<text class="d" transform="translate(764.45,616.80) scale(1.215,1)">182</text>
<text class="d m s" transform="translate(11.30,638.70) scale(1.215,1)">YZDP−40−6</text>
<text class="d" transform="translate(150.07,638.70) scale(1.215,1)">40000</text>
<text class="d" transform="translate(202.30,638.70) scale(1.215,1)">3.0</text>
<text class="d" transform="translate(339.20,638.70) scale(1.215,1)">346</text>
<text class="d" transform="translate(380.00,638.70) scale(1.215,1)">178</text>
<text class="d" transform="translate(415.75,638.70) scale(1.215,1)">200</text>
<text class="d" transform="translate(456.65,638.70) scale(1.215,1)">30</text>
<text class="d" transform="translate(493.55,638.70) scale(1.215,1)">445</text>
<text class="d" transform="translate(532.95,638.70) scale(1.215,1)">310</text>
<text class="d" transform="translate(572.15,638.70) scale(1.215,1)">43</text>
<text class="d" transform="translate(612.05,638.70) scale(1.215,1)">111</text>
<text class="d" transform="translate(651.60,638.70) scale(1.215,1)">200</text>
<text class="d" transform="translate(686.85,638.70) scale(1.215,1)">435</text>
<text class="d" transform="translate(726.95,638.70) scale(1.215,1)">580</text>
<text class="d" transform="translate(764.45,638.70) scale(1.215,1)">204</text>
<text class="d m s" transform="translate(11.30,660.50) scale(1.215,1)">YZDP−50−6</text>
<text class="d" transform="translate(150.07,660.50) scale(1.215,1)">50000</text>
<text class="d" transform="translate(202.30,660.50) scale(1.215,1)">3.7</text>
<text class="d" transform="translate(339.20,660.50) scale(1.215,1)">390</text>
<text class="d" transform="translate(380.00,660.50) scale(1.215,1)">155</text>
<text class="d" transform="translate(415.75,660.50) scale(1.215,1)">220</text>
<text class="d" transform="translate(456.65,660.50) scale(1.215,1)">33</text>
<text class="d" transform="translate(493.55,660.50) scale(1.215,1)">480</text>
<text class="d" transform="translate(532.95,660.50) scale(1.215,1)">315</text>
<text class="d" transform="translate(572.15,660.50) scale(1.215,1)">45</text>
<text class="d" transform="translate(612.05,660.50) scale(1.215,1)">55</text>
<text class="d" transform="translate(651.60,660.50) scale(1.215,1)">225</text>
<text class="d" transform="translate(686.85,660.50) scale(1.215,1)">472</text>
<text class="d" transform="translate(726.95,660.50) scale(1.215,1)">580</text>
<text class="d" transform="translate(764.45,660.50) scale(1.215,1)">253</text>
<text class="d m s" transform="translate(11.30,682.30) scale(1.215,1)">YZDP−75−6</text>
<text class="d" transform="translate(150.07,682.30) scale(1.215,1)">75000</text>
<text class="d" transform="translate(202.30,682.30) scale(1.215,1)">5.5</text>
<text class="d" transform="translate(339.20,682.30) scale(1.215,1)">380</text>
<text class="d" transform="translate(380.00,682.30) scale(1.215,1)">250</text>
<text class="d" transform="translate(415.75,682.30) scale(1.215,1)">220</text>
<text class="d" transform="translate(456.65,682.30) scale(1.215,1)">45</text>
<text class="d" transform="translate(493.55,682.30) scale(1.215,1)">480</text>
<text class="d" transform="translate(532.95,682.30) scale(1.215,1)">350</text>
<text class="d" transform="translate(572.15,682.30) scale(1.215,1)">45</text>
<text class="d" transform="translate(612.05,682.30) scale(1.215,1)">/</text>
<text class="d" transform="translate(651.60,682.30) scale(1.215,1)">/</text>
<text class="d" transform="translate(686.85,682.30) scale(1.215,1)">465</text>
<text class="d" transform="translate(726.95,682.30) scale(1.215,1)">730</text>
<text class="d" transform="translate(764.45,682.30) scale(1.215,1)">390</text>
<text class="d m s" transform="translate(11.30,704.40) scale(1.215,1)">YZDP−100−6</text>
<text class="d" transform="translate(150.07,704.40) scale(1.215,1)">100000</text>
<text class="d" transform="translate(202.30,704.40) scale(1.215,1)">7.5</text>
<text class="d" transform="translate(339.20,704.40) scale(1.215,1)">440</text>
<text class="d" transform="translate(380.00,704.40) scale(1.215,1)">280</text>
<text class="d" transform="translate(415.75,704.40) scale(1.215,1)">240</text>
<text class="d" transform="translate(456.65,704.40) scale(1.215,1)">52</text>
<text class="d" transform="translate(493.55,704.40) scale(1.215,1)">570</text>
<text class="d" transform="translate(532.95,704.40) scale(1.215,1)">410</text>
<text class="d" transform="translate(572.15,704.40) scale(1.215,1)">47</text>
<text class="d" transform="translate(612.05,704.40) scale(1.215,1)">/</text>
<text class="d" transform="translate(651.60,704.40) scale(1.215,1)">/</text>
<text class="d" transform="translate(686.85,704.40) scale(1.215,1)">500</text>
<text class="d" transform="translate(726.95,704.40) scale(1.215,1)">800</text>
<text class="d" transform="translate(764.45,704.40) scale(1.215,1)">460</text>
<text class="d m s" transform="translate(11.30,726.10) scale(1.215,1)">YZDP−10−8</text>
<text class="d" transform="translate(150.07,726.10) scale(1.215,1)">10000</text>
<text class="d" transform="translate(202.30,726.10) scale(1.215,1)">0.75</text>
<text class="d" transform="translate(339.20,726.10) scale(1.215,1)">310</text>
<text class="d" transform="translate(380.00,726.10) scale(1.215,1)">170</text>
<text class="d" transform="translate(415.75,726.10) scale(1.215,1)">160</text>
<text class="d" transform="translate(456.65,726.10) scale(1.215,1)">33</text>
<text class="d" transform="translate(493.55,726.10) scale(1.215,1)">370</text>
<text class="d" transform="translate(532.95,726.10) scale(1.215,1)">240</text>
<text class="d" transform="translate(572.15,726.10) scale(1.215,1)">35</text>
<text class="d" transform="translate(612.05,726.10) scale(1.215,1)">/</text>
<text class="d" transform="translate(651.60,726.10) scale(1.215,1)">/</text>
<text class="d" transform="translate(686.85,726.10) scale(1.215,1)">350</text>
<text class="d" transform="translate(726.95,726.10) scale(1.215,1)">540</text>
<text class="d" transform="translate(764.45,726.10) scale(1.215,1)">135</text>
<text class="d m s" transform="translate(11.30,747.40) scale(1.215,1)">YZDP−20−8</text>
<text class="d" transform="translate(150.07,747.40) scale(1.215,1)">20000</text>
<text class="d" transform="translate(202.30,747.40) scale(1.215,1)">1.5</text>
<text class="d" transform="translate(339.20,747.40) scale(1.215,1)">350</text>
<text class="d" transform="translate(380.00,747.40) scale(1.215,1)">220</text>
<text class="d" transform="translate(415.75,747.40) scale(1.215,1)">200</text>
<text class="d" transform="translate(456.65,747.40) scale(1.215,1)">39</text>
<text class="d" transform="translate(493.55,747.40) scale(1.215,1)">450</text>
<text class="d" transform="translate(532.95,747.40) scale(1.215,1)">313</text>
<text class="d" transform="translate(572.15,747.40) scale(1.215,1)">40</text>
<text class="d" transform="translate(612.05,747.40) scale(1.215,1)">/</text>
<text class="d" transform="translate(651.60,747.40) scale(1.215,1)">/</text>
<text class="d" transform="translate(686.85,747.40) scale(1.215,1)">425</text>
<text class="d" transform="translate(726.95,747.40) scale(1.215,1)">600</text>
<text class="d" transform="translate(764.45,747.40) scale(1.215,1)">242</text>
<text class="d m s" transform="translate(11.30,769.80) scale(1.215,1)">YZDP−30−8</text>
<text class="d" transform="translate(150.07,769.80) scale(1.215,1)">30000</text>
<text class="d" transform="translate(202.30,769.80) scale(1.215,1)">2.2</text>
<text class="d" transform="translate(339.20,769.80) scale(1.215,1)">380</text>
<text class="d" transform="translate(380.00,769.80) scale(1.215,1)">250</text>
<text class="d" transform="translate(415.75,769.80) scale(1.215,1)">220</text>
<text class="d" transform="translate(456.65,769.80) scale(1.215,1)">45</text>
<text class="d" transform="translate(493.55,769.80) scale(1.215,1)">480</text>
<text class="d" transform="translate(532.95,769.80) scale(1.215,1)">350</text>
<text class="d" transform="translate(572.15,769.80) scale(1.215,1)">45</text>
<text class="d" transform="translate(612.05,769.80) scale(1.215,1)">/</text>
<text class="d" transform="translate(651.60,769.80) scale(1.215,1)">/</text>
<text class="d" transform="translate(686.85,769.80) scale(1.215,1)">465</text>
<text class="d" transform="translate(726.95,769.80) scale(1.215,1)">670</text>
<text class="d" transform="translate(764.45,769.80) scale(1.215,1)">354</text>
<text transform="translate(275.00,162.90) scale(1.215,1)" font-family="'Liberation Sans', sans-serif" font-size="13.52" font-weight="normal" stroke="#101313" stroke-width="0.15">2930</text>
<text transform="translate(276.20,357.80) scale(1.215,1)" font-family="'Liberation Sans', sans-serif" font-size="13.52" font-weight="normal" stroke="#101313" stroke-width="0.15">1450</text>
<text transform="translate(275.90,594.20)" font-family="'Liberation Serif', serif" font-size="14.2" font-weight="normal" letter-spacing="2.2" stroke="#101313" stroke-width="0.12">960</text>
<text transform="translate(273.60,748.40)" font-family="'Liberation Serif', serif" font-size="14.2" font-weight="normal" letter-spacing="2.2" stroke="#101313" stroke-width="0.12">750</text>
</g>
<text transform="translate(49.30,29.20)" font-family="'Liberation Serif', 'Noto Serif CJK SC', serif" font-size="13.8" font-weight="900">型</text>
<text transform="translate(74.50,29.20)" font-family="'Liberation Serif', 'Noto Serif CJK SC', serif" font-size="13.8" font-weight="900">号</text>
<text transform="translate(63.20,44.70)" font-family="'DejaVu Serif', serif" font-size="13.2" font-weight="normal" stroke="#101313" stroke-width="0.35">Model</text>
<text transform="translate(147.50,26.80)" font-family="'Liberation Sans', 'Noto Sans CJK SC', sans-serif" font-size="13.4" font-weight="500">激振力</text>
<text transform="translate(147.80,38.00) scale(0.86,1)" font-family="'DejaVu Serif', serif" font-size="7.8" font-weight="normal" stroke="#101313" stroke-width="0.2">Vibrationforce</text>
<text transform="translate(151.90,52.80)" font-family="'DejaVu Serif', serif" font-size="10.8" font-weight="normal" letter-spacing="0.1" stroke="#101313" stroke-width="0.1">(N)</text>
<text transform="translate(202.00,24.80)" font-family="'Liberation Serif', 'Noto Serif CJK SC', serif" font-size="12.8" font-weight="900" letter-spacing="1.8">功率</text>
<text transform="translate(202.20,37.60)" font-family="'DejaVu Serif', serif" font-size="11.2" font-weight="normal" letter-spacing="0.6" stroke="#101313" stroke-width="0.18">Power</text>
<text transform="translate(202.00,51.80)" font-family="'DejaVu Serif', serif" font-size="12" font-weight="normal" letter-spacing="1" stroke="#101313" stroke-width="0.18">(kw)</text>
<text transform="translate(273.00,27.00)" font-family="'Liberation Sans', 'Noto Sans CJK SC', sans-serif" font-size="14.4" font-weight="500">转速</text>
<text transform="translate(274.30,39.40)" font-family="'DejaVu Serif', serif" font-size="8.5" font-weight="normal" letter-spacing="0.5" stroke="#101313" stroke-width="0.2">Speed</text>
<text transform="translate(274.50,50.80)" font-family="'DejaVu Serif', serif" font-size="8.5" font-weight="normal" letter-spacing="0.7" stroke="#101313" stroke-width="0.2">(r.p.m)</text>
<text class="s" transform="translate(345.40,16.20)" font-family="'Liberation Serif', 'Noto Serif CJK SC', serif" font-size="13" font-weight="bold" letter-spacing="2" stroke="#101313" stroke-width="0.2">安装尺寸</text>
<text class="s" transform="translate(403.60,16.80)" font-family="'DejaVu Serif', serif" font-size="12.2" font-weight="normal" letter-spacing="1.2" stroke="#101313" stroke-width="0.2">(mm)</text>
<text transform="translate(398.50,26.90)" font-family="'DejaVu Serif', serif" font-size="10.8" font-weight="normal" letter-spacing="0.75" stroke="#101313" stroke-width="0.45">InstallationDimensions</text>
<text transform="translate(340.20,51.20)" font-family="'DejaVu Serif', serif" font-size="12" font-weight="normal" stroke="#101313" stroke-width="0.28">A</text>
<text transform="translate(379.70,51.20)" font-family="'DejaVu Serif', serif" font-size="12" font-weight="normal" stroke="#101313" stroke-width="0.28">B</text>
<text transform="translate(419.80,51.20)" font-family="'DejaVu Serif', serif" font-size="12" font-weight="normal" stroke="#101313" stroke-width="0.28">H</text>
<text transform="translate(457.50,51.20)" font-family="'DejaVu Serif', serif" font-size="12" font-weight="normal" stroke="#101313" stroke-width="0.28">K</text>
<text transform="translate(495.50,51.20)" font-family="'DejaVu Serif', serif" font-size="12" font-weight="normal" stroke="#101313" stroke-width="0.28">AB</text>
<text transform="translate(535.00,51.20)" font-family="'DejaVu Serif', serif" font-size="12" font-weight="normal" stroke="#101313" stroke-width="0.28">BB</text>
<text transform="translate(577.00,51.20)" font-family="'DejaVu Serif', serif" font-size="12" font-weight="normal" stroke="#101313" stroke-width="0.28">G</text>
<text transform="translate(613.80,51.20)" font-family="'DejaVu Serif', serif" font-size="12" font-weight="normal" stroke="#101313" stroke-width="0.28">E</text>
<text transform="translate(652.00,51.20)" font-family="'DejaVu Serif', serif" font-size="12" font-weight="normal" stroke="#101313" stroke-width="0.28">F</text>
<text transform="translate(693.80,51.20)" font-family="'DejaVu Serif', serif" font-size="12" font-weight="normal" stroke="#101313" stroke-width="0.28">HD</text>
<text transform="translate(729.20,51.20)" font-family="'DejaVu Serif', serif" font-size="12" font-weight="normal" stroke="#101313" stroke-width="0.28">L</text>
<text class="s" transform="translate(556.20,16.00)" font-family="'Liberation Serif', 'Noto Serif CJK SC', serif" font-size="13" font-weight="bold" letter-spacing="2" stroke="#101313" stroke-width="0.2">外型尺寸</text>
<text class="s" transform="translate(614.40,16.80)" font-family="'DejaVu Serif', serif" font-size="12.2" font-weight="normal" letter-spacing="1.3" stroke="#101313" stroke-width="0.2">(mm)</text>
<text transform="translate(599.30,27.60) scale(1.1,1)" font-family="'DejaVu Serif', serif" font-size="10.6" font-weight="normal" letter-spacing="1.0" stroke="#101313" stroke-width="0.55">Dimensions</text>
<text transform="translate(768.00,22.90)" font-family="'Liberation Serif', 'Noto Serif CJK SC', serif" font-size="13" font-weight="bold" letter-spacing="1.4" stroke="#101313" stroke-width="0.3">重量</text>
<text transform="translate(764.30,36.10)" font-family="'Liberation Serif', serif" font-size="11.2" font-weight="normal" letter-spacing="0.35" stroke="#101313" stroke-width="0.15">Weight</text>
<text transform="translate(762.00,49.60)" font-family="'Liberation Serif', serif" font-size="12.2" font-weight="normal" letter-spacing="0.2" stroke="#101313" stroke-width="0.15">(kg)</text>
</g>
<rect x="782.5" y="1.10" width="1.5" height="773.30" fill="#1f2626"/>
</svg>
</body></html>
